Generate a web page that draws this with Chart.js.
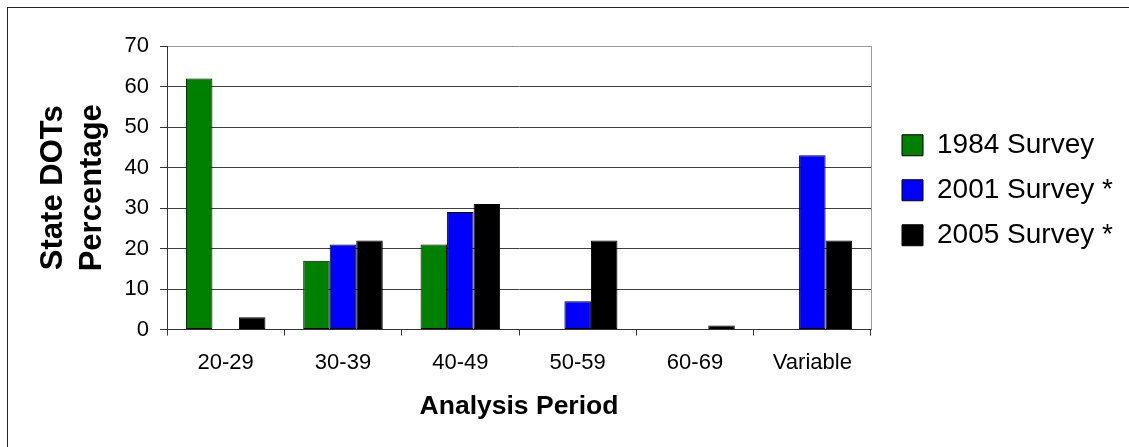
<!DOCTYPE html>
<html>
<head>
<meta charset="utf-8">
<script src="https://cdn.jsdelivr.net/npm/chart.js@4/dist/chart.umd.min.js"></script>
<style>
  html, body { margin: 0; padding: 0; background: #fff; overflow: hidden; }
  #frame { position: absolute; left: 7px; top: 7px; width: 1300px; height: 600px; border-left: 1px solid #222; border-top: 1px solid #222; }
  #chart { position: absolute; left: 0; top: 0; }
</style>
</head>
<body>
<div id="frame"></div>
<canvas id="chart" width="1129" height="447"></canvas>
<script>
  // categories and values
  const periods = ['20-29', '30-39', '40-49', '50-59', '60-69', 'Variable'];
  const survey1984 = [62, 17, 21, 0, 0, 0];
  const survey2001 = [0, 21, 29, 7, 0, 43];
  const survey2005 = [3, 22, 31, 22, 1, 22];
  const seriesNames = ['1984 Survey', '2001 Survey *', '2005 Survey *'];
  const yTicks = [0, 10, 20, 30, 40, 50, 60, 70];

  Chart.defaults.font.family = "'Liberation Sans', Arial, sans-serif";
  Chart.defaults.color = '#000';

  const ctx = document.getElementById('chart').getContext('2d');

  function barSet(label, data, color) {
    return {
      label: label,
      data: data,
      backgroundColor: color,
      borderColor: '#000',
      borderWidth: 1,
      borderSkipped: false,
      categoryPercentage: 0.678,
      barPercentage: 1.0
    };
  }

  // gap between plot border and legend, plus the grey plot border on the right
  const legendGap = {
    id: 'legendGap',
    afterLayout(chart) {
      const lg = chart.legend;
      lg.left += 14;
      lg.right += 14;
    },
    afterDraw(chart) {
      const a = chart.chartArea;
      const c = chart.ctx;
      c.save();
      c.strokeStyle = '#9a9a9a';
      c.lineWidth = 1;
      c.beginPath();
      c.moveTo(Math.round(a.right) + 0.5, a.top);
      c.lineTo(Math.round(a.right) + 0.5, a.bottom);
      c.stroke();
      c.restore();
    }
  };

  const chart = new Chart(ctx, {
    type: 'bar',
    data: {
      labels: periods,
      datasets: [
        barSet(seriesNames[0], survey1984, '#008000'),
        barSet(seriesNames[1], survey2001, '#0000ff'),
        barSet(seriesNames[2], survey2005, '#000000')
      ]
    },
    plugins: [legendGap],
    options: {
      responsive: false,
      animation: false,
      layout: { padding: { top: 46, right: 26, bottom: 0, left: 0 } },
      plugins: {
        tooltip: { enabled: false },
        legend: {
          position: 'right',
          fullSize: false,
          align: 'center',
          maxWidth: 232,
          title: { display: true, text: '', padding: 0, font: { size: 5, lineHeight: 1 } },
          labels: {
            boxWidth: 21,
            boxHeight: 21,
            padding: 17,
            color: '#000',
            font: { size: 28 }
          }
        }
      },
      scales: {
        x: {
          grid: {
            display: true,
            drawOnChartArea: false,
            drawTicks: true,
            tickLength: 6,
            tickColor: '#333',
            offset: true
          },
          border: { display: true, color: '#333', width: 1 },
          ticks: { padding: 14, font: { size: 22 }, color: '#000' },
          title: {
            display: true,
            text: 'Analysis Period',
            font: { size: 26.5, weight: 'bold' },
            padding: { top: 0, bottom: 24 },
            color: '#000'
          },
          afterFit: (s) => { s.height = 117.5; }
        },
        y: {
          min: 0,
          max: 70,
          afterBuildTicks: (s) => { s.ticks = yTicks.map(v => ({ value: v })); },
          grid: {
            color: (c) => (c.tick && c.tick.value === 70 ? '#9a9a9a' : '#404040'),
            tickColor: '#333',
            tickLength: 7,
            drawTicks: true
          },
          border: { display: true, color: '#333', width: 1 },
          ticks: { padding: 11, font: { size: 22 }, color: '#000' },
          title: {
            display: true,
            text: ['State DOTs', 'Percentage'],
            font: { size: 31, weight: 'bold', lineHeight: 1.26 },
            padding: { top: 34, bottom: 0 },
            color: '#000'
          },
          afterFit: (s) => { s.width = 167; }
        }
      }
    }
  });
</script>
</body>
</html>
